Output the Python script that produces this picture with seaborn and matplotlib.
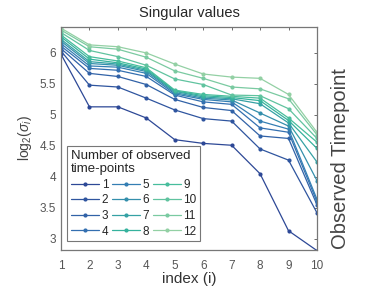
import numpy as np
import pandas as pd
import matplotlib
matplotlib.use("Agg")
import matplotlib.pyplot as plt
import seaborn as sns

# singular values (log2) per number of observed time-points, index 1..10
index = list(range(1, 11))
n_observed = list(range(1, 13))
sv_1 = [5.98, 5.13, 5.13, 4.95, 4.60, 4.54, 4.51, 4.05, 3.13, 2.81]
sv_2 = [6.03, 5.48, 5.45, 5.27, 5.08, 4.94, 4.90, 4.45, 4.27, 3.42]
sv_3 = [6.07, 5.67, 5.62, 5.49, 5.25, 5.12, 5.07, 4.66, 4.62, 3.55]
sv_4 = [6.11, 5.75, 5.72, 5.62, 5.32, 5.21, 5.17, 4.79, 4.72, 3.60]
sv_5 = [6.15, 5.79, 5.77, 5.67, 5.34, 5.25, 5.21, 4.90, 4.77, 3.64]
sv_6 = [6.19, 5.83, 5.80, 5.70, 5.36, 5.27, 5.24, 5.03, 4.82, 3.94]
sv_7 = [6.22, 5.86, 5.82, 5.72, 5.38, 5.29, 5.26, 5.18, 4.87, 4.24]
sv_8 = [6.26, 5.90, 5.84, 5.74, 5.39, 5.31, 5.28, 5.23, 4.91, 4.46]
sv_9 = [6.29, 5.94, 5.87, 5.76, 5.40, 5.33, 5.30, 5.27, 4.95, 4.56]
sv_10 = [6.33, 6.04, 5.94, 5.80, 5.58, 5.49, 5.32, 5.31, 5.10, 4.62]
sv_11 = [6.37, 6.10, 6.06, 5.93, 5.71, 5.59, 5.45, 5.42, 5.26, 4.68]
sv_12 = [6.40, 6.13, 6.10, 6.00, 5.82, 5.66, 5.61, 5.59, 5.33, 4.72]
all_sv = [sv_1, sv_2, sv_3, sv_4, sv_5, sv_6, sv_7, sv_8, sv_9, sv_10, sv_11, sv_12]

rows = []
for n, vals in zip(n_observed, all_sv):
    for i, v in zip(index, vals):
        rows.append({"index": i, "log2sv": v, "n": str(n)})
df = pd.DataFrame(rows)

sns.set_style("white")
plt.rcParams['font.family'] = ['Liberation Sans', 'DejaVu Sans']
plt.rcParams['mathtext.fontset'] = 'custom'
plt.rcParams['mathtext.it'] = 'Liberation Sans:italic'
plt.rcParams['mathtext.rm'] = 'Liberation Sans'

pal = sns.blend_palette(['#2d4896', '#3478b6', '#35b89a', '#93d0a4'], 12)

fig = plt.figure(figsize=(3.72, 2.99), dpi=100)
ax = fig.add_axes([0.164, 0.164, 0.688, 0.746])

sns.lineplot(data=df, x="index", y="log2sv", hue="n", palette=pal,
             marker="o", markersize=3, markeredgewidth=0, linewidth=0.9,
             ax=ax)

ax.set_xlim(1, 10)
ax.set_ylim(2.82, 6.42)
ax.set_xticks(index)
ax.set_yticks([3, 3.5, 4, 4.5, 5, 5.5, 6])
ax.set_yticklabels(["3", "3.5", "4", "4.5", "5", "5.5", "6"])
ax.tick_params(direction="in", length=2.5, labelsize=8.5, colors="#555555",
               right=True, top=True, width=0.6)
ax.tick_params(axis="x", pad=7)
for s in ax.spines.values():
    s.set_color("#777777")
    s.set_linewidth(0.9)

ax.set_xlabel("index (i)", fontsize=11, color="#333333", labelpad=0)
ax.set_ylabel(r"log$_2$($\sigma_i$)", fontsize=10, color="#444444", labelpad=4)
ax.set_title("Singular values", fontsize=10.5, pad=7)

handles, labels = ax.get_legend_handles_labels()
leg = ax.legend(handles, labels, ncol=3, loc="lower left",
                bbox_to_anchor=(0.025, 0.04), fontsize=8.5,
                title="Number of observed\ntime-points", title_fontsize=9.5,
                frameon=True, fancybox=False, edgecolor="#555555",
                handlelength=2.4, handletextpad=0.2, columnspacing=0.3,
                labelspacing=0.3, borderpad=0.3, borderaxespad=0)
leg._legend_box.align = "left"
leg.get_frame().set_linewidth(0.8)

fig.text(0.915, 0.47, "Observed Timepoint", rotation=90, fontsize=14.5,
         color="#444444", ha="center", va="center")

fig.savefig("out.png", dpi=100)
